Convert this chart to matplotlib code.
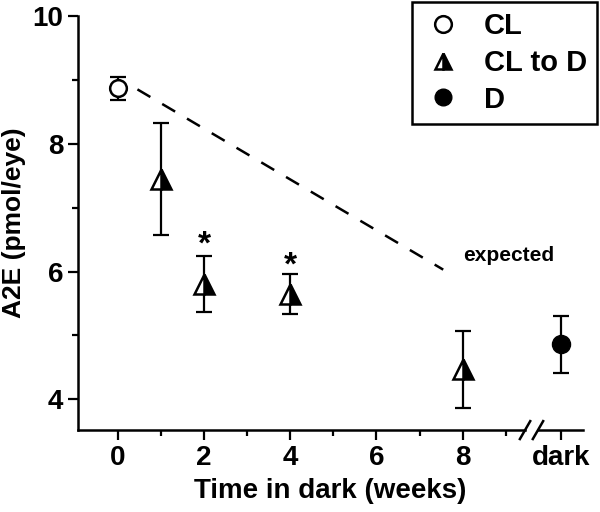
import matplotlib
matplotlib.use("Agg")
from matplotlib import pyplot as plt

plt.rcParams['font.family'] = ['Liberation Sans', 'DejaVu Sans']
plt.rcParams['font.weight'] = 'bold'

# data
cl_x = [0]
cl_y = [8.87]
cl_err = [0.18]

cld_x = [1, 2, 4, 8]
cld_y = [7.45, 5.80, 5.65, 4.47]
cld_err = [0.88, 0.44, 0.31, 0.60]

dark_pos = 10.28
d_y = [4.86]
d_err = [0.45]

exp_x = [0.45, 7.55]
exp_y = [8.85, 6.03]

star_x = [2, 4]
star_y = [6.42, 6.08]

xticks = [0, 2, 4, 6, 8, dark_pos]
xlabels = ["0", "2", "4", "6", "8", "dark"]

fig = plt.figure(figsize=(6, 5.12), dpi=100)
ax = fig.add_axes([0.13, 0.16, 0.842, 0.809])

ax.plot(exp_x, exp_y, color='black', lw=1.8, dashes=(6, 5.5))
ax.text(9.07, 6.25, "expected", ha='center', va='center', fontsize=15, fontweight='bold')

eb = dict(fmt='none', ecolor='black', elinewidth=1.6, capsize=6, capthick=1.6, zorder=2)
ax.errorbar(cl_x, cl_y, yerr=cl_err, **eb)
ax.errorbar(cld_x, cld_y, yerr=cld_err, **eb)
ax.errorbar([dark_pos], d_y, yerr=d_err, **eb)

ax.plot(cl_x, cl_y, 'o', ms=12, mfc='white', mec='black', mew=1.8, label='CL', zorder=3)
ax.plot(cld_x, cld_y, '^', ms=15, fillstyle='right', mfc='black', mfcalt='white',
        mec='black', mew=1.8, label='CL to D', zorder=3)
ax.plot([dark_pos], d_y, 'o', ms=13, mfc='black', mec='black', label='D', zorder=3)

for sx, sy in zip(star_x, star_y):
    ax.text(sx, sy, "*", ha='center', va='center', fontsize=24, fontweight='bold')

xmin, xmax = -0.93, 10.8
ymin, ymax = 3.52, 10
ax.set_xlim(xmin, xmax)
ax.set_ylim(ymin, ymax)

ax.set_xticks(xticks)
ax.set_xticklabels(xlabels)
ax.set_xticks([1, 3, 5, 7, 9], minor=True)
ax.set_yticks([4, 6, 8, 10])
ax.set_yticks([5, 7, 9], minor=True)
ax.tick_params(which='major', direction='out', length=7, width=1.6, labelsize=20)
ax.tick_params(which='minor', direction='out', length=4, width=1.6)
for lab in ax.get_xticklabels() + ax.get_yticklabels():
    lab.set_fontweight('bold')

ax.set_xlabel("Time in dark (weeks)", fontsize=20, fontweight='bold', labelpad=5)
ax.set_ylabel("A2E (pmol/eye)", fontsize=19, fontweight='bold', labelpad=5)

ax.spines['top'].set_visible(False)
ax.spines['right'].set_visible(False)
ax.spines['left'].set_linewidth(1.8)
ax.spines['bottom'].set_visible(False)

# broken x axis
brk_a, brk_b = 9.45, 9.75
ax.plot([xmin, brk_a], [ymin, ymin], color='black', lw=1.8, clip_on=False, zorder=4)
ax.plot([brk_b, xmax], [ymin, ymin], color='black', lw=1.8, clip_on=False, zorder=4)
dy = 0.14
for bx in (brk_a, brk_b):
    ax.plot([bx - 0.12, bx + 0.12], [ymin - dy, ymin + dy], color='black', lw=1.8,
            clip_on=False, zorder=4)

leg = ax.legend(loc='upper right', bbox_to_anchor=(597 / 600, 1 - 2 / 512),
                bbox_transform=fig.transFigure, borderaxespad=0, fontsize=21, frameon=True,
                fancybox=False, edgecolor='black', handletextpad=0.7, borderpad=0.35,
                labelspacing=0.3, handlelength=1.4, numpoints=1, framealpha=1)
leg.get_frame().set_linewidth(1.8)
for h in leg.legend_handles:
    h.set_markersize(12)
for t in leg.get_texts():
    t.set_fontweight('bold')

fig.savefig("out.png", dpi=100)
